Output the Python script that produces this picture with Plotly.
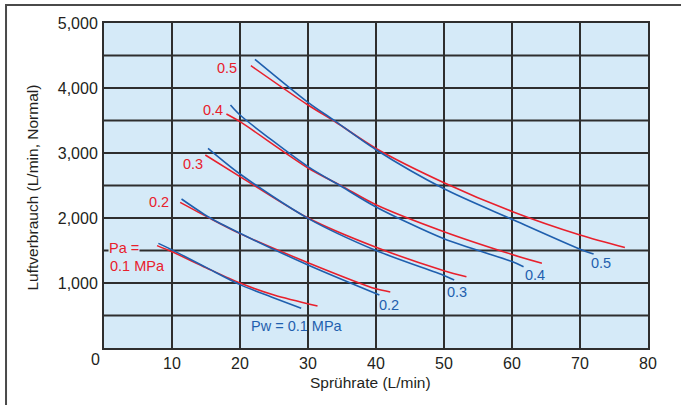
import plotly.graph_objects as go

# ---- data ----
# Blue: constant water pressure Pw (MPa)
pw01_x = [8.0, 10, 15, 20, 25, 29.0]
pw01_y = [1610, 1510, 1240, 975, 770, 610]
pw02_x = [11.4, 15.3, 20, 30, 40.5]
pw02_y = [2292, 2020, 1765, 1277, 815]
pw03_x = [15.3, 20, 30, 40, 50, 51.5]
pw03_y = [3072, 2677, 1995, 1500, 1115, 1046]
pw04_x = [18.6, 20, 30, 35, 40, 50, 60, 61.7]
pw04_y = [3738, 3585, 2790, 2480, 2170, 1680, 1330, 1251]
pw05_x = [22.2, 30, 34, 40, 50, 60, 70, 72.0]
pw05_y = [4441, 3780, 3490, 3050, 2450, 1980, 1520, 1445]

# Red: constant air pressure Pa (MPa)
pa01_x = [7.8, 10, 15, 20, 25, 31.4]
pa01_y = [1575, 1480, 1235, 1000, 815, 645]
pa02_x = [11.2, 15.3, 20, 30, 40, 42.1]
pa02_y = [2240, 2010, 1760, 1313, 910, 862]
pa03_x = [14.9, 20, 30, 40, 50, 53.3]
pa03_y = [2969, 2636, 2000, 1550, 1190, 1097]
pa04_x = [18.0, 20, 30, 35, 40, 50, 60, 64.4]
pa04_y = [3600, 3482, 2770, 2490, 2205, 1790, 1440, 1303]
pa05_x = [21.6, 30, 34, 40, 50, 60, 70, 76.6]
pa05_y = [4343, 3738, 3480, 3070, 2543, 2100, 1738, 1545]

x_ticks = [10, 20, 30, 40, 50, 60, 70, 80]
y_ticks = [1000, 2000, 3000, 4000, 5000]
y_tick_text = ["1,000", "2,000", "3,000", "4,000", "5,000"]

x_title = "Sprührate (L/min)"
y_title = "Luftverbrauch (L/min, Normal)"

BLUE = "#1f5fae"
RED = "#e8202c"
GRID = "#2e2e2e"
BG = "#d5eaf8"
TXT = "#231f20"
FONT = "Liberation Sans, Arial, sans-serif"

fig = go.Figure()

blue_series = [(pw01_x, pw01_y), (pw02_x, pw02_y), (pw03_x, pw03_y), (pw04_x, pw04_y), (pw05_x, pw05_y)]
red_series = [(pa01_x, pa01_y), (pa02_x, pa02_y), (pa03_x, pa03_y), (pa04_x, pa04_y), (pa05_x, pa05_y)]

for xs, ys in red_series:
    fig.add_trace(go.Scatter(x=xs, y=ys, mode="lines",
                             line=dict(color=RED, width=1.6, shape="spline", smoothing=0.8),
                             hoverinfo="skip", showlegend=False))
for xs, ys in blue_series:
    fig.add_trace(go.Scatter(x=xs, y=ys, mode="lines",
                             line=dict(color=BLUE, width=1.6, shape="spline", smoothing=0.8),
                             hoverinfo="skip", showlegend=False))

# Red labels (Pa)
red_labels = [("0.5", 18.13, 4303), ("0.4", 15.99, 3662), ("0.3", 13.13, 2831), ("0.2", 8.06, 2251)]
for t, x, y in red_labels:
    fig.add_annotation(x=x, y=y, text=t, showarrow=False, xanchor="center", yanchor="middle",
                       font=dict(family=FONT, size=14.5, color=RED))
fig.add_annotation(x=0.6, y=1534, text="Pa =", showarrow=False, xanchor="left", yanchor="middle",
                   bgcolor=BG, borderpad=0, font=dict(family=FONT, size=14.5, color=RED))
fig.add_annotation(x=0.6, y=1262, text="0.1 MPa", showarrow=False, xanchor="left", yanchor="middle",
                   font=dict(family=FONT, size=14.5, color=RED))

# Blue labels (Pw)
blue_labels = [("0.2", 41.96, 662), ("0.3", 51.96, 866), ("0.4", 63.38, 1123), ("0.5", 73.04, 1303)]
for t, x, y in blue_labels:
    fig.add_annotation(x=x, y=y, text=t, showarrow=False, xanchor="center", yanchor="middle",
                       font=dict(family=FONT, size=14.5, color=BLUE))
fig.add_annotation(x=21.3, y=338, text="Pw = 0.1 MPa", showarrow=False, xanchor="left", yanchor="middle",
                   font=dict(family=FONT, size=14.5, color=BLUE))

# Axis titles and shared origin label
fig.add_annotation(xref="paper", yref="paper", x=0.489, y=-0.1068, text=x_title, showarrow=False,
                   xanchor="center", yanchor="middle", font=dict(family=FONT, size=15.5, color=TXT))
fig.add_annotation(xref="paper", yref="paper", x=-0.1305, y=0.4938, text=y_title, showarrow=False,
                   textangle=-90, xanchor="center", yanchor="middle", font=dict(family=FONT, size=15.5, color=TXT))
fig.add_annotation(xref="paper", yref="paper", x=-0.0165, y=-0.0369, text="0", showarrow=False,
                   xanchor="center", yanchor="middle", font=dict(family=FONT, size=16, color=TXT))

# Outer frame around the whole chart (open at right/bottom, beyond the window)
fig.add_shape(type="rect", xref="paper", yref="paper", x0=-0.1801, x1=1.2, y0=-0.3, y1=1.0554,
              line=dict(color="#4a4a4a", width=2), fillcolor="rgba(0,0,0,0)", layer="above")

fig.update_xaxes(range=[0, 80], tickvals=x_ticks, showgrid=True, gridcolor=GRID, gridwidth=2,
                 showline=True, linecolor=GRID, linewidth=2, mirror=True, zeroline=False,
                 ticks="", ticklabelstandoff=0, tickfont=dict(family=FONT, size=16, color=TXT))
fig.update_yaxes(range=[0, 5000], tickvals=y_ticks, ticktext=y_tick_text, showgrid=False,
                 showline=True, linecolor=GRID, linewidth=2, mirror=True, zeroline=False,
                 ticks="", ticklabelstandoff=1, tickfont=dict(family=FONT, size=16, color=TXT))

# horizontal grid every 500
for gy in [500, 1000, 1500, 2000, 2500, 3000, 3500, 4000, 4500]:
    fig.add_shape(type="line", xref="paper", yref="y", x0=0, x1=1, y0=gy, y1=gy,
                  line=dict(color=GRID, width=2), layer="below")

fig.update_layout(width=681, height=405, margin=dict(l=104, r=33, t=23, b=57),
                  plot_bgcolor=BG, paper_bgcolor="white", showlegend=False,
                  font=dict(family=FONT, color=TXT))

fig.write_html("out.html", config={"displayModeBar": False},
               post_script="document.body.style.margin='0';document.body.style.overflow='hidden';")
